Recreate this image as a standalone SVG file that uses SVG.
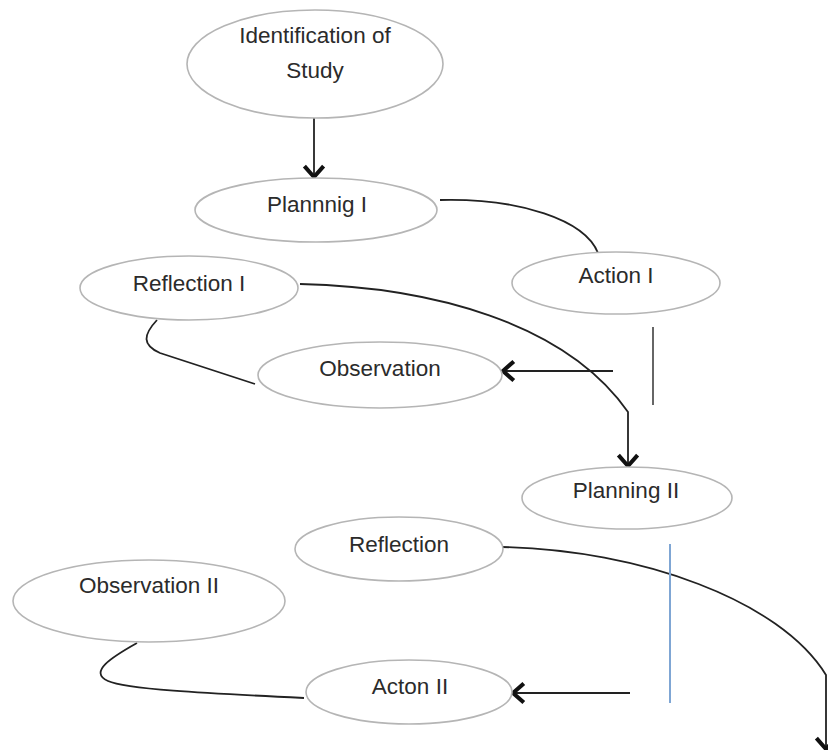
<svg xmlns="http://www.w3.org/2000/svg" width="828" height="750" viewBox="0 0 828 750">
<style>
.node ellipse{fill:#fff;stroke:#b5b5b5;stroke-width:1.6}
.node text{font-family:"Liberation Sans",Arial,sans-serif;font-size:22.5px;fill:#2b2b2b;text-anchor:middle}
.conn path,.conn line{fill:none;stroke:#222;stroke-width:1.8}
.arrow{marker-end:url(#chev)}
</style>
<defs>
<marker id="chev" markerUnits="userSpaceOnUse" markerWidth="20" markerHeight="24" viewBox="-12 -10 14 20" refX="0" refY="0" orient="auto" overflow="visible">
<path d="M-9,-8 L0,0 L-9,8" fill="none" stroke="#111" stroke-width="3.4" stroke-linejoin="miter"/>
</marker>
</defs>
<rect width="828" height="750" fill="#fff"/>
<g class="conn">
<line class="arrow" x1="314" y1="118" x2="314" y2="177"/>
<path d="M440,200 C520,198 585,220 598,253"/>
<path class="arrow" d="M300,284 C430,287 565,322 628,412 L628,466"/>
<path d="M157,320 C143,335 142,345 160,353 L255,384"/>
<line class="arrow" x1="613" y1="371" x2="503" y2="371"/>
<line x1="653" y1="327" x2="653" y2="405" style="stroke:#666;stroke-width:2"/>
<path class="arrow" d="M502,547 C640,550 780,600 826,675 L826,749"/>
<path d="M137,643 C112,657 88,672 108,681 C125,689 200,693 304,698"/>
<line class="arrow" x1="630" y1="693" x2="513" y2="693"/>
<line x1="670" y1="544" x2="670" y2="703" style="stroke:#7fa6d4;stroke-width:2"/>
</g>
<g id="identification" class="node">
<ellipse cx="315" cy="64" rx="128" ry="54"/>
<text x="315" y="43">Identification of</text>
<text x="315" y="78">Study</text>
</g>
<g id="planning1" class="node">
<ellipse cx="316" cy="210" rx="121" ry="32"/>
<text x="317" y="212">Plannnig I</text>
</g>
<g id="action1" class="node">
<ellipse cx="616" cy="283" rx="104" ry="31"/>
<text x="616" y="283">Action I</text>
</g>
<g id="reflection1" class="node">
<ellipse cx="189" cy="288" rx="109" ry="32"/>
<text x="189" y="291">Reflection I</text>
</g>
<g id="observation1" class="node">
<ellipse cx="380" cy="375" rx="122" ry="33"/>
<text x="380" y="376">Observation</text>
</g>
<g id="planning2" class="node">
<ellipse cx="627" cy="498" rx="105" ry="31"/>
<text x="626" y="498">Planning II</text>
</g>
<g id="reflection2" class="node">
<ellipse cx="399" cy="549" rx="104" ry="32"/>
<text x="399" y="552">Reflection</text>
</g>
<g id="observation2" class="node">
<ellipse cx="149" cy="601" rx="136" ry="41"/>
<text x="149" y="593">Observation II</text>
</g>
<g id="action2" class="node">
<ellipse cx="409" cy="692" rx="103" ry="32"/>
<text x="410" y="694">Acton II</text>
</g>
</svg>
